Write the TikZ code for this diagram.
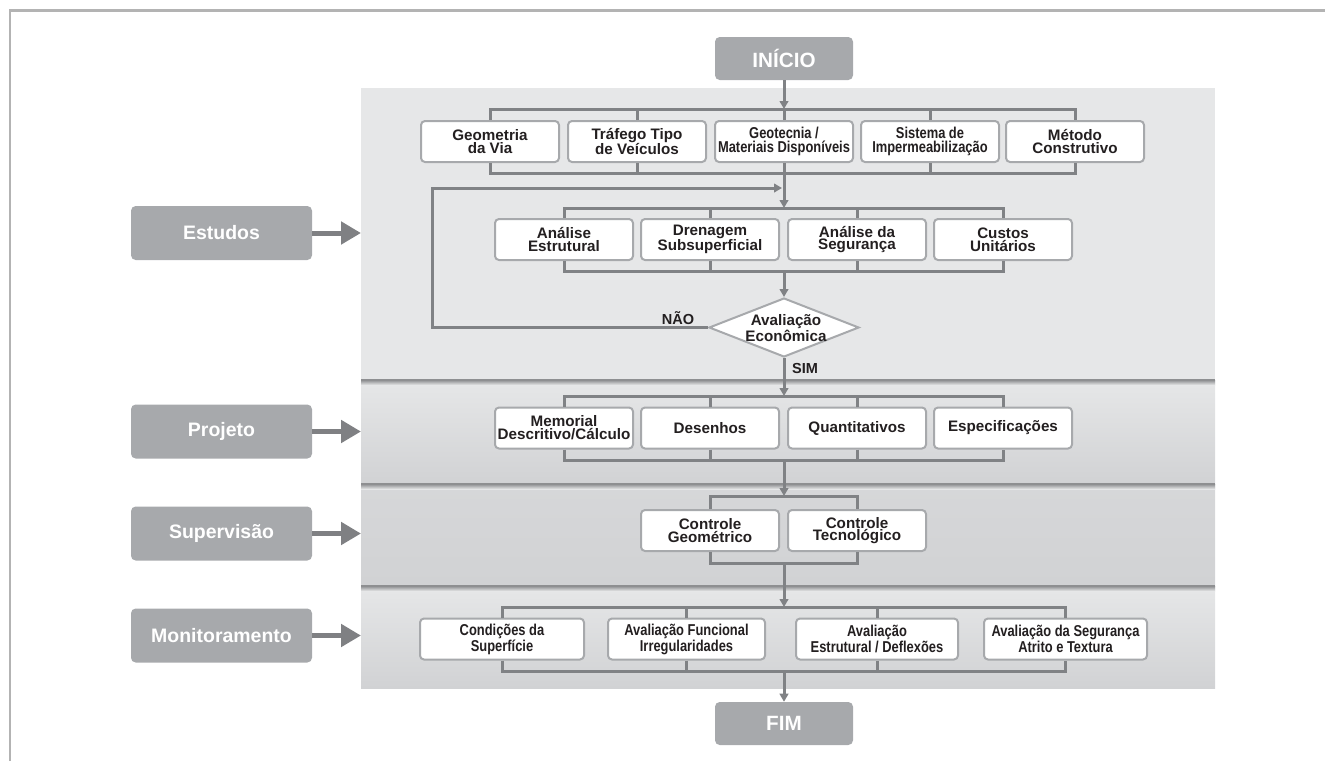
\documentclass[tikz,border=0pt]{standalone}
\usepackage{fontspec}
\setmainfont{Liberation Sans}
\newfontfamily\nrwfont[FakeStretch=0.82]{Liberation Sans}
\usetikzlibrary{arrows.meta,shapes.geometric}
\definecolor{framec}{HTML}{B3B3B3}
\definecolor{bandA}{HTML}{E6E7E8}
\definecolor{bandB}{HTML}{D1D2D4}
\definecolor{sepc}{HTML}{8E8F91}
\definecolor{lblc}{HTML}{A7A9AC}
\definecolor{connc}{HTML}{808285}
\definecolor{boxc}{HTML}{A7A9AC}
\definecolor{txtc}{HTML}{231F20}
\definecolor{arrc}{HTML}{7F8083}
\newcommand\bxf{\fontsize{11.4pt}{9.6pt}\selectfont\bfseries}
\newcommand\nrf{\nrwfont\fontsize{11.8pt}{9.9pt}\selectfont\bfseries}
\newcommand\lbf{\fontsize{14.6pt}{16pt}\selectfont\bfseries}
\begin{document}
\begin{tikzpicture}[x=0.75pt,y=-0.75pt,
  bx/.style={draw=boxc, line width=1.5pt, fill=white, rounded corners=3pt,
    minimum width=103.5pt, minimum height=30.75pt, inner sep=0pt,
    align=center, text=txtc, font=\bxf},
  nbx/.style={bx, font=\nrf},
  lbl/.style={fill=lblc, rounded corners=3.5pt, minimum width=135.75pt,
    minimum height=40.5pt, inner sep=0pt, text=white, font=\lbf},
  term/.style={fill=lblc, rounded corners=3.5pt, minimum width=103.5pt,
    minimum height=32.25pt, inner sep=0pt, text=white,
    font=\fontsize{15.5pt}{17pt}\selectfont\bfseries},
  dia/.style={diamond, draw=boxc, line width=1.5pt, fill=white,
    minimum width=112.5pt, minimum height=44.25pt, inner sep=0pt},
  dtxt/.style={align=center, text=txtc, font=\bxf, inner sep=0pt},
  yn/.style={text=txtc, font=\fontsize{10.9pt}{12pt}\selectfont\bfseries, inner sep=0pt},
  conn/.style={draw=connc, line width=2.25pt},
  arr/.style={-{Triangle[length=6pt,width=6.5pt]}},
  bigarr/.style={draw=arrc, line width=3.75pt, -{Triangle[length=15pt,width=16.5pt]}}
]
\useasboundingbox (0,0) rectangle (1325,761);
% frame
\draw[framec, line width=1.9pt] (10,761) -- (10,10.5) -- (1325,10.5);
% bands
\fill[bandA] (361,88) rectangle (1215,380);
\shade[top color=bandA, bottom color=bandB] (361,380) rectangle (1215,484);
\shade[top color=bandB!75!bandA, bottom color=bandB] (361,484) rectangle (1215,586);
\shade[top color=bandA, bottom color=bandB] (361,586) rectangle (1215,688);
\foreach \yy in {380,484,586}{
  \shade[top color=sepc, bottom color=bandA] (361,\yy) rectangle (1215,\yy+5);
  \fill[sepc] (361,\yy-1.5) rectangle (1215,\yy+1);
}
% side labels
\node[lbl] (lst) at (221.5,233) {Estudos};
\node[lbl] (lpr) at (221.5,431.5) {Projeto};
\node[lbl] (lsu) at (221.5,533.5) {Supervisão};
\node[lbl] (lmo) at (221.5,635.5) {Monitoramento};
\coordinate (est) at (361,233);
\coordinate (epr) at (361,431.5);
\coordinate (esu) at (361,533.5);
\coordinate (emo) at (361,635.5);
\draw[bigarr] (lst.east) -- (est);
\draw[bigarr] (lpr.east) -- (epr);
\draw[bigarr] (lsu.east) -- (esu);
\draw[bigarr] (lmo.east) -- (emo);
% terminals
\node[term] (ini) at (784,58.5) {INÍCIO};
\node[term] (fim) at (784,723.5) {FIM};
% row 1
\node[bx]  (g1) at (490,141.5) {Geometria\\da Via};
\node[bx]  (g2) at (637,141.5) {Tráfego Tipo\\de Veículos};
\node[nbx] (g3) at (784,141.5) {Geotecnia /\\Materiais Disponíveis};
\node[nbx] (g4) at (930,141.5) {Sistema de\\Impermeabilização};
\node[bx]  (g5) at (1075,141.5) {Método\\Construtivo};
\coordinate (t1) at (784,109);
\coordinate (b1) at (784,173);
\draw[conn] (g1.north) |- (t1) -| (g5.north);
\foreach \n in {g2,g3,g4} \draw[conn] (\n.north) -- (\n.north |- t1);
\draw[conn] (g1.south) |- (b1) -| (g5.south);
\foreach \n in {g2,g3,g4} \draw[conn] (\n.south) -- (\n.south |- b1);
% row 2
\node[bx] (a1) at (564,239.5) {Análise\\Estrutural};
\node[bx] (a2) at (710,239.5) {Drenagem\\Subsuperficial};
\node[bx] (a3) at (857,239.5) {Análise da\\Segurança};
\node[bx] (a4) at (1003,239.5) {Custos\\Unitários};
\coordinate (t2) at (784,208);
\coordinate (b2) at (784,271);
\draw[conn] (a1.north) |- (t2) -| (a4.north);
\foreach \n in {a2,a3} \draw[conn] (\n.north) -- (\n.north |- t2);
\draw[conn] (a1.south) |- (b2) -| (a4.south);
\foreach \n in {a2,a3} \draw[conn] (\n.south) -- (\n.south |- b2);
% decision
\node[dia] (d) at (784,327.5) {};
\node[dtxt] (dt) at (786,328) {Avaliação\\Econômica};
\node[yn] (nao) at (678,318) {NÃO};
\node[yn] (sim) at (805,368) {SIM};
\coordinate (lp) at (432,188);
\coordinate (fb) at (782,188);
% row 3
\node[bx] (p1) at (564,428) {Memorial\\Descritivo/Cálculo};
\node[bx] (p2) at (710,428) {Desenhos};
\node[bx] (p3) at (857,428) {Quantitativos};
\node[bx] (p4) at (1003,428) {Especificações};
\coordinate (t3) at (784,396);
\coordinate (b3) at (784,460);
\draw[conn] (p1.north) |- (t3) -| (p4.north);
\foreach \n in {p2,p3} \draw[conn] (\n.north) -- (\n.north |- t3);
\draw[conn] (p1.south) |- (b3) -| (p4.south);
\foreach \n in {p2,p3} \draw[conn] (\n.south) -- (\n.south |- b3);
% row 4
\node[bx] (s1) at (710,530.5) {Controle\\Geométrico};
\node[bx] (s2) at (857,530.5) {Controle\\Tecnológico};
\coordinate (t4) at (784,496);
\coordinate (b4) at (784,563);
\draw[conn] (s1.north) |- (t4) -| (s2.north);
\draw[conn] (s1.south) |- (b4) -| (s2.south);
% row 5
\node[nbx, minimum width=123pt]   (m1) at (502,639) {Condições da\\Superfície};
\node[nbx, minimum width=117.75pt] (m2) at (686.5,639) {Avaliação Funcional\\Irregularidades};
\node[nbx, minimum width=121.5pt] (m3) at (877,639) {Avaliação\\Estrutural / Deflexões};
\node[nbx, minimum width=122.25pt] (m4) at (1065.5,639) {Avaliação da Segurança\\Atrito e Textura};
\coordinate (t5) at (784,607);
\coordinate (b5) at (784,671);
\draw[conn] (m1.north) |- (t5) -| (m4.north);
\foreach \n in {m2,m3} \draw[conn] (\n.north) -- (\n.north |- t5);
\draw[conn] (m1.south) |- (b5) -| (m4.south);
\foreach \n in {m2,m3} \draw[conn] (\n.south) -- (\n.south |- b5);
% flow arrows
\draw[conn,arr] (ini.south) -- (t1);
\draw[conn,arr] (b1) -- (t2);
\draw[conn,arr] (d.west) -| (lp) -- (fb);
\draw[conn,arr] (b2) -- (d.north);
\draw[conn,arr] (d.south) -- (t3);
\draw[conn,arr] (b3) -- (t4);
\draw[conn,arr] (b4) -- (t5);
\draw[conn,arr] (b5) -- (fim.north);
\end{tikzpicture}
\end{document}
